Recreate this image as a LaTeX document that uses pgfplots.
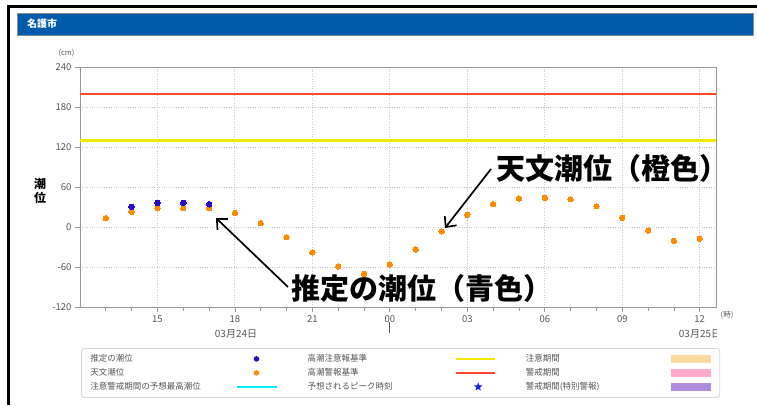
\documentclass[border=0pt]{standalone}
\usepackage{pgfplots}
\pgfplotsset{compat=1.18}
\usepackage{pgfplotstable}
\usepackage{fontspec}
\setmainfont{Noto Sans CJK JP}
\usetikzlibrary{arrows.meta,shapes.geometric}
\definecolor{hdrblue}{RGB}{0,91,172}
\definecolor{tideorange}{RGB}{255,140,0}
\definecolor{estblue}{RGB}{40,10,205}
\definecolor{warnred}{RGB}{255,72,40}
\definecolor{advyellow}{RGB}{245,232,0}
\definecolor{axisgray}{RGB}{150,150,150}
\definecolor{gridgray}{RGB}{200,200,200}
\definecolor{labelgray}{RGB}{85,85,85}
\definecolor{patchorange}{RGB}{255,218,160}
\definecolor{patchpink}{RGB}{255,170,200}
\definecolor{patchpurple}{RGB}{176,140,224}
\definecolor{peakcyan}{RGB}{0,238,255}
\definecolor{starblue}{RGB}{20,30,240}

\pgfplotstableread{
h v
13 13.5
14 23
15 28.5
16 28.5
17 28.5
18 21.5
19 6
20 -15
21 -38
22 -59
23 -70
24 -56
25 -33.5
26 -6.5
27 18.5
28 34.5
29 43
30 44
31 42
32 31.5
33 14
34 -5
35 -20.5
36 -17.5
}\tidetable

\pgfplotstableread{
h v
14 30.5
15 36.5
16 36.5
17 34.5
}\esttable

\begin{document}
\begin{tikzpicture}[x=1pt,y=1pt]
\path (0,0) rectangle (757,405);
% screenshot frame
\fill[black] (7,0) rectangle (10,399.5);
\fill[black] (7,397) rectangle (757,399.5);
% header bar
\filldraw[fill=hdrblue, draw=black!45, line width=0.6pt] (17,370) rectangle (753,392);
\node[anchor=west, text=white, font=\fontsize{10}{12}\selectfont\bfseries, inner sep=0pt] at (27,381) {名護市};

\begin{axis}[
  at={(80pt,98pt)}, anchor=south west,
  scale only axis, width=636pt, height=239.5pt,
  xmin=12, xmax=36.63, ymin=-120, ymax=240,
  axis line style={draw=axisgray, line width=0.8pt},
  xtick={15,18,21,24,27,30,33,36},
  xticklabels={15,18,21,00,03,06,09,12},
  minor xtick={13,14,16,17,19,20,22,23,25,26,28,29,31,32,34,35},
  ytick={-120,-60,0,60,120,180,240},
  yticklabels={-120,-60,0,60,120,180,240},
  xtick pos=left, ytick pos=left,
  tick align=outside, major tick length=5pt, minor tick length=4pt,
  tick style={draw=axisgray, line width=0.8pt},
  grid=major,
  major grid style={draw=gridgray, dotted, line width=0.9pt},
  ticklabel style={font=\fontsize{9.5}{11}\selectfont, text=labelgray},
  legend columns=3,
  legend plot pos=right,
  legend cell align=left,
  legend style={at={(0,0)}, anchor=north west, xshift=1pt, yshift=-41pt,
    draw=black!15, line width=0.8pt, rounded corners=3pt, fill=white,
    font=\fontsize{8.5}{10}\selectfont, text=labelgray,
    inner xsep=9pt, inner ysep=6pt, row sep=5pt,
    /tikz/every even column/.append style={column sep=30pt},
    nodes={inner sep=0pt, text height=7.5pt, text depth=1.5pt}},
]
\addplot[tideorange, only marks, mark=*, mark size=2.7pt, mark options={draw=tideorange, fill=tideorange, line width=0pt}, forget plot] table[x=h,y=v] {\tidetable};
\addplot[estblue, only marks, mark=*, mark size=2.8pt, mark options={draw=estblue, fill=estblue, line width=0pt}, forget plot] table[x=h,y=v] {\esttable};
\addplot[advyellow, line width=2.6pt, forget plot] coordinates {(12,130) (36.63,130)};
\addplot[warnred, line width=2.6pt, forget plot] coordinates {(12,200) (36.63,200)};

\addlegendimage{legend image code/.code={\path[draw=none,fill=none] (0pt,-3.7pt) rectangle (40pt,3.7pt); \fill[estblue, draw=none] (20pt,0pt) circle (2.8pt);}}
\addlegendentry{\makebox[145pt][l]{推定の潮位}}
\addlegendimage{legend image code/.code={\path[draw=none,fill=none] (0pt,-3.7pt) rectangle (40pt,3.7pt); \draw[advyellow, fill=none, line width=2.2pt] (0pt,0pt) -- (39pt,0pt);}}
\addlegendentry{\makebox[147pt][l]{高潮注意報基準}}
\addlegendimage{legend image code/.code={\path[draw=none,fill=none] (0pt,-3.7pt) rectangle (40pt,3.7pt); \fill[patchorange, draw=none, sharp corners] (0pt,-3.7pt) rectangle (40pt,3.7pt);}}
\addlegendentry{\makebox[145pt][l]{注意期間}}
\addlegendimage{legend image code/.code={\path[draw=none,fill=none] (0pt,-3.7pt) rectangle (40pt,3.7pt); \fill[tideorange, draw=none] (20pt,0pt) circle (2.8pt);}}
\addlegendentry{\makebox[145pt][l]{天文潮位}}
\addlegendimage{legend image code/.code={\path[draw=none,fill=none] (0pt,-3.7pt) rectangle (40pt,3.7pt); \draw[warnred, fill=none, line width=2.2pt] (0pt,0pt) -- (39pt,0pt);}}
\addlegendentry{\makebox[147pt][l]{高潮警報基準}}
\addlegendimage{legend image code/.code={\path[draw=none,fill=none] (0pt,-3.7pt) rectangle (40pt,3.7pt); \fill[patchpink, draw=none, sharp corners] (0pt,-3.7pt) rectangle (40pt,3.7pt);}}
\addlegendentry{\makebox[145pt][l]{警戒期間}}
\addlegendimage{legend image code/.code={\path[draw=none,fill=none] (0pt,-3.7pt) rectangle (40pt,3.7pt); \draw[peakcyan, fill=none, line width=2.2pt] (0pt,0pt) -- (40pt,0pt);}}
\addlegendentry{\makebox[145pt][l]{注意警戒期間の予想最高潮位}}
\addlegendimage{legend image code/.code={\path[draw=none,fill=none] (0pt,-3.7pt) rectangle (40pt,3.7pt); \node[star, star points=5, star point ratio=2.4, fill=starblue, draw=none, sharp corners, inner sep=0pt, outer sep=0pt, text height=0pt, text depth=0pt, text width=0pt, minimum size=9pt] at (20pt,0pt) {};}}
\addlegendentry{\makebox[147pt][l]{予想されるピーク時刻}}
\addlegendimage{legend image code/.code={\path[draw=none,fill=none] (0pt,-3.7pt) rectangle (40pt,3.7pt); \fill[patchpurple, draw=none, sharp corners] (0pt,-3.7pt) rectangle (40pt,3.7pt);}}
\addlegendentry{\makebox[145pt][l]{警戒期間(特別警報)}}
\end{axis}

% axis unit labels
\node[font=\fontsize{7.5}{9}\selectfont, text=labelgray, inner sep=0pt] at (66.5,352) {(cm)};
\node[font=\fontsize{7.5}{9}\selectfont, text=labelgray, inner sep=0pt] at (727,90) {(時)};
\node[font=\fontsize{12}{13.5}\selectfont\bfseries, align=center, inner sep=0pt] at (40,214) {潮\\位};
% date labels
\node[font=\fontsize{10}{12}\selectfont, text=labelgray, inner sep=0pt] at (236,71) {03月24日};
\begin{scope}
\clip (650,60) rectangle (716,82);
\node[font=\fontsize{10}{12}\selectfont, text=labelgray, inner sep=0pt] at (700,71) {03月25日};
\end{scope}
\draw[labelgray, line width=0.8pt] (389,83) -- (389,72);

% annotations
\draw[line width=1.7pt, -{Straight Barb[length=8pt,width=15pt,line width=1.7pt]}] (491,236) -- (445,177);
\node[anchor=west, inner sep=0pt, font=\fontsize{29}{32}\selectfont\bfseries] at (496,237) {天文潮位（橙色）};
\draw[line width=1.7pt, -{Straight Barb[length=8pt,width=15pt,line width=1.7pt]}] (288,118) -- (216,187);
\node[anchor=west, inner sep=0pt, font=\fontsize{29}{32}\selectfont\bfseries] at (291,117) {推定の潮位（青色）};
\end{tikzpicture}
\end{document}
